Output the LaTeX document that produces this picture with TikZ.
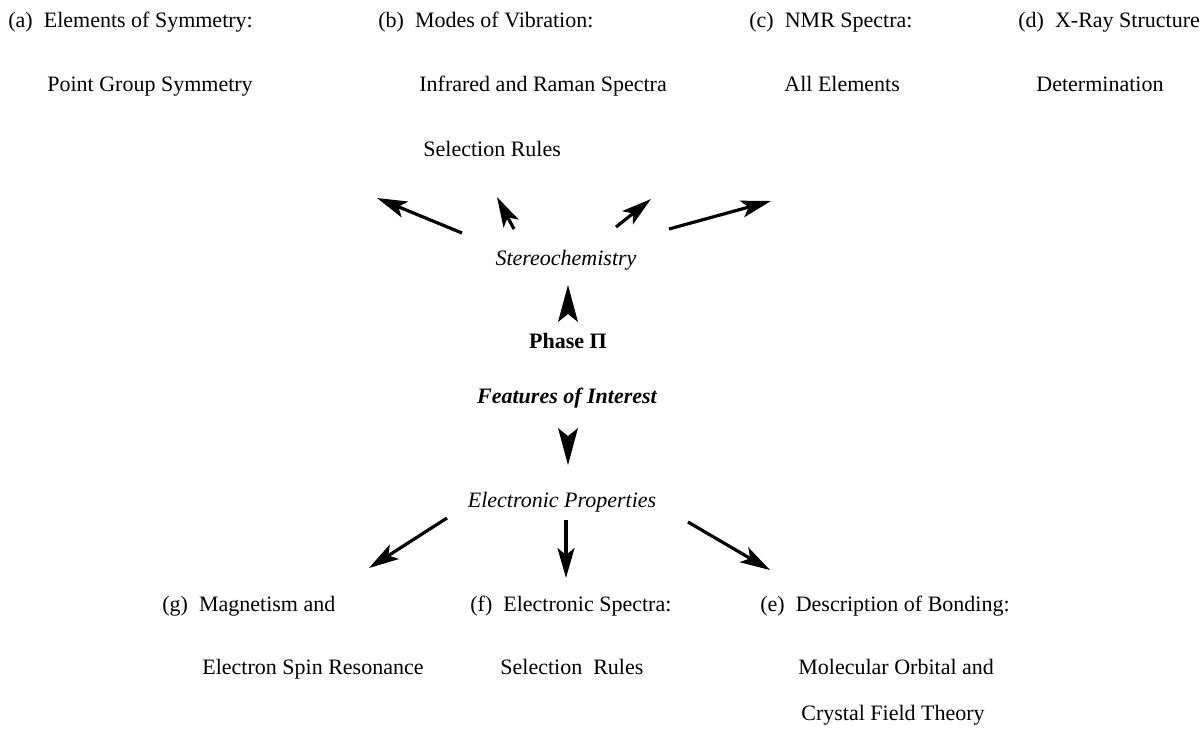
\documentclass[tikz,border=0pt]{standalone}
\usepackage{fontspec}
\setmainfont{Liberation Serif}
\usetikzlibrary{arrows.meta}
\begin{document}
\begin{tikzpicture}[x=0.5pt,y=-0.5pt,
  lbl/.style={anchor=base west,inner sep=0pt,font=\fontsize{11}{13}\selectfont},
  ctr/.style={anchor=base,inner sep=0pt,font=\fontsize{11}{13}\selectfont},
  arr/.style={line width=1.6pt,-{Stealth[length=15pt,width=8.5pt,inset=3.5pt]}},
  headonly/.style={fill=black}]
\fill[white] (0,0) rectangle (1201,730);
\useasboundingbox (0,0) rectangle (1201,730);
% top labels
\node[lbl] (a1) at (8,27) {(a)\ \ Elements of Symmetry:};
\node[lbl] (a2) at (47,91) {Point Group Symmetry};
\node[lbl] (b1) at (378,27) {(b)\ \ Modes of Vibration:};
\node[lbl] (b2) at (419,91) {Infrared and Raman Spectra};
\node[lbl] (b3) at (423,156) {Selection Rules};
\node[lbl] (c1) at (749,27) {(c)\ \ NMR Spectra:};
\node[lbl] (c2) at (784,91) {All Elements};
\node[lbl] (d1) at (1018,27) {(d)\ \ X-Ray Structure};
\node[lbl] (d2) at (1036,91) {Determination};
% centre
\node[ctr] (stereo) at (566,265) {\itshape Stereochemistry};
\node[ctr] (phase) at (568,348) {\bfseries Phase Π};
\node[ctr] (feat) at (567,403) {\bfseries\itshape Features of Interest};
\node[ctr] (elec) at (562,507) {\itshape Electronic Properties};
% bottom labels
\node[lbl] (g1) at (162,611) {(g)\ \ Magnetism and};
\node[lbl] (g2) at (202,674) {Electron Spin Resonance};
\node[lbl] (f1) at (470,611) {(f)\ \ Electronic Spectra:};
\node[lbl] (f2) at (500,674) {Selection\ \ Rules};
\node[lbl] (e1) at (760,611) {(e)\ \ Description of Bonding:};
\node[lbl] (e2) at (798,674) {Molecular Orbital and};
\node[lbl] (e3) at (801,720) {Crystal Field Theory};
% arrow end points
\coordinate (s1) at (462,233); \coordinate (t1) at (377,198);
\coordinate (s2) at (514,229); \coordinate (t2) at (497,197);
\coordinate (s3) at (616,227); \coordinate (t3) at (651,199);
\coordinate (s4) at (669,229); \coordinate (t4) at (771,201);
\coordinate (pt) at (568,285);
\coordinate (ft) at (568,465);
\coordinate (s5) at (447,518); \coordinate (t5) at (369,568);
\coordinate (s6) at (566,520); \coordinate (t6) at (566,578);
\coordinate (s7) at (688,522); \coordinate (t7) at (770,570);
\draw[arr] (s1) -- (t1);
\draw[arr] (s2) -- (t2);
\draw[arr] (s3) -- (t3);
\draw[arr] (s4) -- (t4);
% head-only arrows around Phase / Features
\fill[headonly] (pt) -- ++(10,37) -- ++(-10,-8) -- ++(-10,8) -- cycle;
\fill[headonly] (ft) -- ++(10,-37) -- ++(-10,8) -- ++(-10,-8) -- cycle;
\draw[arr] (s5) -- (t5);
\draw[arr] (s6) -- (t6);
\draw[arr] (s7) -- (t7);
\end{tikzpicture}
\end{document}
